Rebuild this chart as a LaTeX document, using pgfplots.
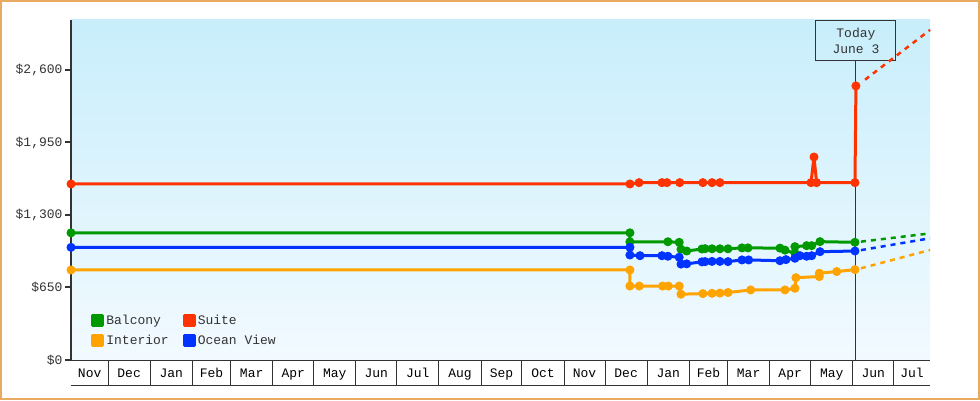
\documentclass[border=0pt]{standalone}
\usepackage{pgfplots}
\pgfplotsset{compat=1.18}
\usepackage{fontspec}
\newfontfamily\monofont{Liberation Mono}
\definecolor{cbalcony}{RGB}{0,153,0}
\definecolor{csuite}{RGB}{255,51,0}
\definecolor{cinterior}{RGB}{255,163,0}
\definecolor{cocean}{RGB}{0,51,255}
\definecolor{axisgray}{RGB}{51,51,51}
\definecolor{bgtop}{RGB}{200,238,251}
\definecolor{bgbottom}{RGB}{242,250,255}
\definecolor{frameorange}{RGB}{233,170,100}
\newcommand{\lbl}{\monofont\fontsize{13}{15}\selectfont}
\begin{document}
\begin{tikzpicture}
\useasboundingbox (0pt,0pt) rectangle (980pt,400pt);
\draw[frameorange, line width=2pt] (1pt,1pt) rectangle (979pt,399pt);
\shade[top color=bgtop, bottom color=bgbottom] (71pt,40pt) rectangle (930pt,380pt);
\begin{axis}[
    at={(71pt,40pt)}, anchor=south west,
    scale only axis, width=859pt, height=340pt,
    xmin=2.8, xmax=633.7, ymin=0, ymax=3048,
    clip=false,
    axis x line*=bottom, axis y line*=left,
    x axis line style={draw=axisgray, line width=1pt},
    y axis line style={draw=axisgray, line width=2pt},
    tick align=outside,
    major tick length=6pt, minor tick length=25pt,
    ytick={0,650,1300,1950,2600},
    yticklabels={\$0,\$650,{\$1,300},{\$1,950},{\$2,600}},
    ytick style={draw=axisgray, line width=2pt},
    yticklabel style={font=\lbl, text=axisgray, xshift=1pt},
    xtick={16.5,45.5,76.5,106,135.5,166,196.5,227,257.5,288.5,319,349.5,380,410.5,441.5,471,500.5,531,561.5,592,620.5},
    xticklabels={Nov,Dec,Jan,Feb,Mar,Apr,May,Jun,Jul,Aug,Sep,Oct,Nov,Dec,Jan,Feb,Mar,Apr,May,Jun,Jul},
    xtick style={draw=none},
    minor xtick={30,61,92,120,151,181,212,242,273,304,334,365,395,426,457,485,516,546,577,607},
    minor x tick style={draw=axisgray, line width=1pt},
    xticklabel style={font=\lbl, text=black, anchor=base, yshift=-11pt},
    every axis plot/.append style={line width=3pt, line join=round, mark=*, mark size=4pt,
        mark options={line width=1pt}},
    legend image code/.code={\fill[#1] (0pt,-5pt) rectangle (10pt,5pt);},
    legend style={draw=none, fill=none, font=\lbl, text=axisgray,
        at={(0.02,0.03)}, anchor=south west, row sep=5pt,
        /tikz/every even column/.append style={column sep=12pt}},
    legend columns=2, legend cell align=left,
]
\draw[axisgray, line width=1pt] (axis cs:579.3,0) -- (axis cs:579.3,2689);
\node[draw=axisgray, line width=1pt, minimum width=80pt, minimum height=40pt,
    anchor=north, align=center, font=\lbl, text=axisgray, inner sep=0pt]
    at (axis cs:579.3,3048) {Today\\[1pt]June 3};

\addplot[color=cbalcony] coordinates {
(2.8,1140) (413.3,1140) (413.3,1060) (441.2,1060) (449.5,1055) (450.8,993)
(455,977) (466.2,995) (468.5,998) (473.6,997) (479.4,997) (485.3,997)
(495.6,1005) (500,1005) (523.5,1003) (527.2,985) (534.5,957) (534.5,1016)
(543.1,1025) (546.8,1025) (552.9,1061) (578.6,1055)
};
\addlegendentry{Balcony}
\addplot[color=csuite] coordinates {
(2.8,1578) (413.3,1578) (420,1590) (436.8,1590) (440.5,1590) (449.9,1590)
(466.9,1590) (473.6,1590) (479.4,1590) (546.3,1590) (548.5,1820) (550.4,1590)
(578.6,1590) (579.3,2457)
};
\addlegendentry{Suite}
\addplot[color=cinterior] coordinates {
(2.8,807) (413.3,807) (413.3,663) (420.2,663) (437.3,663) (441.5,663)
(449.5,663) (450.8,590) (466.9,595) (473.6,598) (479.4,600) (485.3,605)
(502,628) (527.2,628) (534.5,643) (535.2,738) (552.4,748) (552.4,778)
(565.2,793) (578.6,810)
};
\addlegendentry{Interior}
\addplot[color=cocean] coordinates {
(2.8,1010) (413.3,1010) (413.3,941) (420.7,935) (436.8,935) (441.2,930)
(449.5,921) (450.8,860) (455,862) (466.2,880) (468.5,882) (473.6,884)
(479.4,884) (485.3,882) (495.6,897) (500.5,897) (523.5,890) (527.9,900)
(534.5,912) (538.2,935) (543.1,930) (546.8,935) (552.9,971) (578.6,977)
};
\addlegendentry{Ocean View}

\addplot[forget plot, color=cbalcony, mark=none, line width=2.5pt, dash pattern=on 5pt off 5pt]
coordinates {(583,1061) (633.7,1135)};
\addplot[forget plot, color=csuite, mark=none, line width=2.5pt, dash pattern=on 5pt off 5pt]
coordinates {(586,2513) (633.7,2959)};
\addplot[forget plot, color=cinterior, mark=none, line width=2.5pt, dash pattern=on 5pt off 5pt]
coordinates {(583,822) (633.7,986)};
\addplot[forget plot, color=cocean, mark=none, line width=2.5pt, dash pattern=on 5pt off 5pt]
coordinates {(583,985) (633.7,1091)};
\end{axis}
\draw[axisgray, line width=1pt] (71pt,15pt) -- (930pt,15pt);
\end{tikzpicture}
\end{document}
